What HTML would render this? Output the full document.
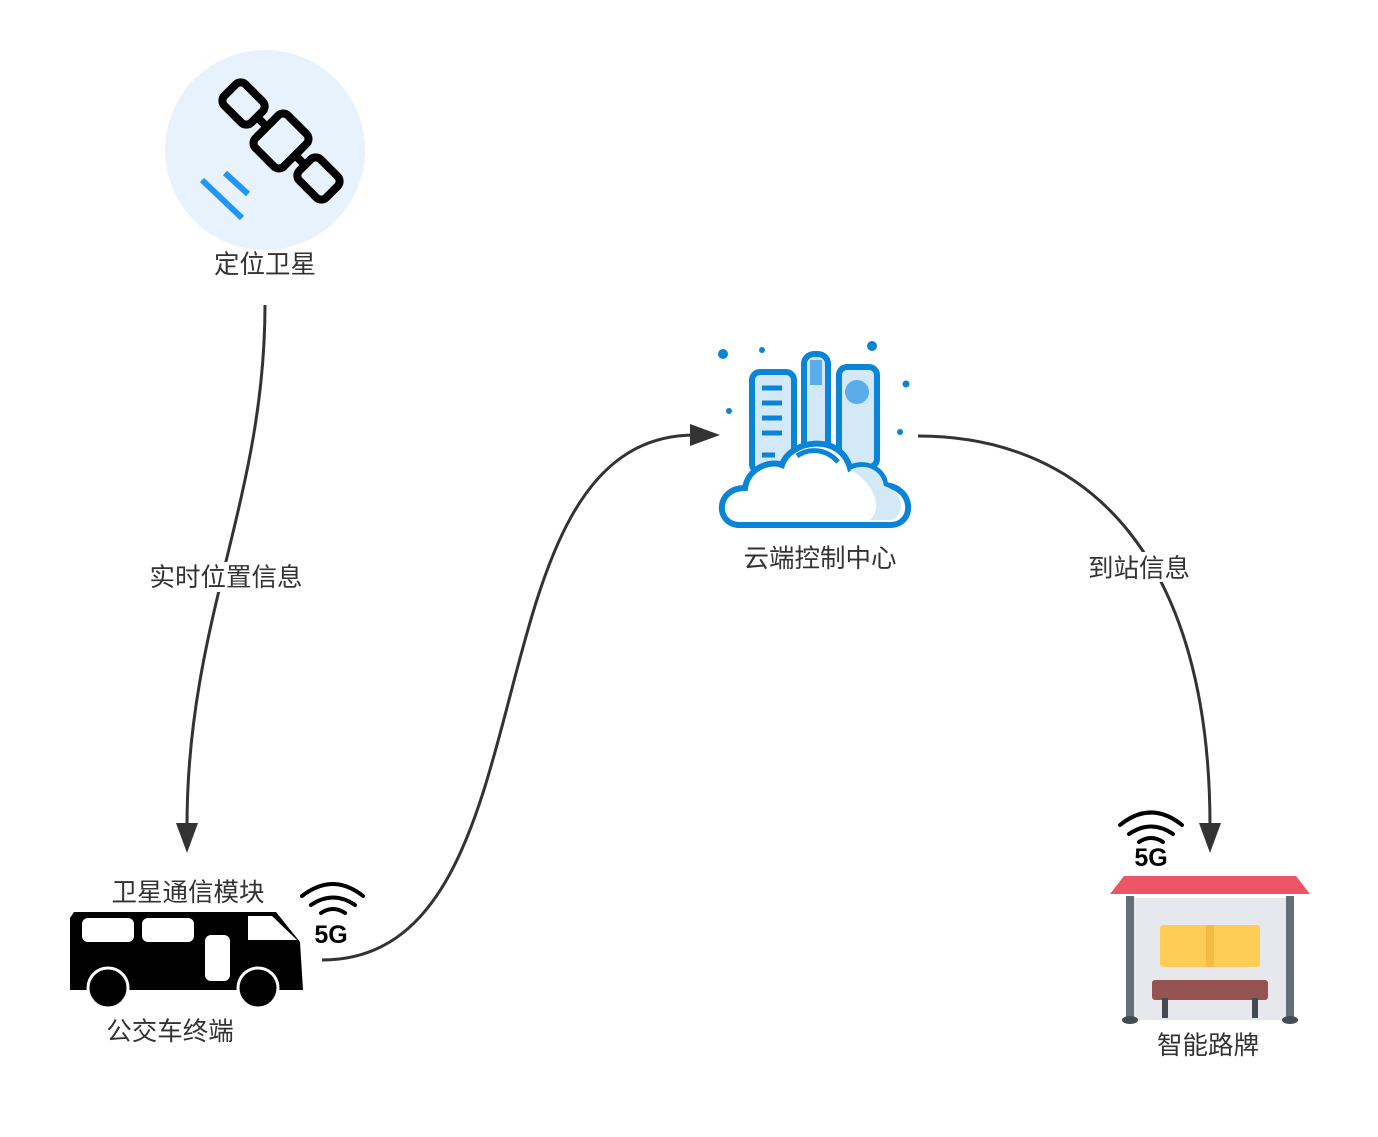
<!DOCTYPE html>
<html><head><meta charset="utf-8"><style>
body{margin:0;background:#fff;}
svg text{font-family:"Liberation Sans","Noto Sans CJK SC",sans-serif;font-size:25.5px;fill:#333;}
</style></head><body>
<svg width="1378" height="1132" viewBox="0 0 1378 1132" xmlns="http://www.w3.org/2000/svg">
<!-- satellite -->
<circle cx="265" cy="150" r="100" fill="#e7f2fd"/>
<g transform="rotate(45 281 141)" fill="none" stroke="#000" stroke-width="8">
<rect x="209" y="126" width="38" height="30" rx="7"/>
<rect x="261" y="118" width="40" height="46" rx="7"/>
<rect x="315" y="126" width="38" height="30" rx="7"/>
<line x1="247" y1="141" x2="261" y2="141"/><line x1="301" y1="141" x2="315" y2="141"/>
</g>
<g stroke="#2196f3" stroke-width="6">
<line x1="202" y1="180" x2="242" y2="218"/><line x1="225" y1="173" x2="248" y2="194"/>
</g>
<text x="265" y="273" text-anchor="middle">定位卫星</text>

<!-- edges -->
<g fill="none" stroke="#333" stroke-width="3">
<path d="M265,305 C265,500 187,620 187,826"/>
<path d="M322,960 C560,960 460,435 695,435"/>
<path d="M918,436 C1090,436 1210,560 1210,826"/>
</g>
<g fill="#333">
<polygon points="176,823 198,823 187,853"/>
<polygon points="690,424 690,446 720,435"/>
<polygon points="1199,823 1221,823 1210,853"/>
</g>
<rect x="146" y="562" width="160" height="30" fill="#fff"/>
<text x="226" y="586" text-anchor="middle">实时位置信息</text>
<rect x="1085" y="552" width="108" height="30" fill="#fff"/>
<text x="1139" y="577" text-anchor="middle">到站信息</text>

<!-- cloud center -->
<g fill="#0a84d6">
<circle cx="723" cy="354" r="5"/><circle cx="762" cy="350" r="3"/><circle cx="872" cy="346" r="5"/><circle cx="906" cy="384" r="3.5"/><circle cx="729" cy="411" r="3"/><circle cx="900" cy="432" r="3"/>
</g>
<g stroke="#0a84d6" stroke-width="6" fill="#d4e9f8">
<rect x="752" y="372" width="42" height="100" rx="8"/>
<rect x="839" y="367" width="38" height="100" rx="8"/>
<rect x="804" y="354" width="24" height="100" rx="10"/>
</g>
<rect x="810" y="360" width="12" height="25" fill="#5aacea"/>
<circle cx="857" cy="392" r="12" fill="#5aacea"/>
<g stroke="#0a84d6" stroke-width="5">
<line x1="762" y1="388" x2="782" y2="388"/><line x1="762" y1="403" x2="782" y2="403"/><line x1="762" y1="418" x2="782" y2="418"/><line x1="762" y1="433" x2="782" y2="433"/><line x1="762" y1="455" x2="775" y2="455"/>
</g>
<path d="M740,525 C715,525 715,488 745,488 C748,468 770,460 782,465 C790,440 840,432 850,468 C865,460 885,470 885,485 C915,488 915,525 890,525 Z" fill="#fff" stroke="#0a84d6" stroke-width="6"/>
<path d="M850,470 C865,462 882,470 884,486 C906,492 905,518 890,520 L870,520 C885,505 870,480 850,470 Z" fill="#d4e9f8"/>
<path d="M797,456 C808,448 826,448 838,462" fill="none" stroke="#0a84d6" stroke-width="5"/>
<text x="820" y="567" text-anchor="middle">云端控制中心</text>

<!-- bus -->
<text x="188" y="901" text-anchor="middle">卫星通信模块</text>
<path d="M74,912 L276,912 L300,942 L303,990 L70,990 L70,918 Z" fill="#000"/>
<rect x="82" y="918" width="52" height="24" rx="6" fill="#fff"/>
<rect x="142" y="918" width="52" height="24" rx="6" fill="#fff"/>
<path d="M248,916 L272,916 L297,940 L248,940 Z" fill="#fff"/>
<rect x="205" y="935" width="25" height="46" rx="6" fill="#fff"/>
<circle cx="108" cy="988" r="20" fill="#000" stroke="#fff" stroke-width="3"/>
<circle cx="258" cy="988" r="20" fill="#000" stroke="#fff" stroke-width="3"/>
<text x="170" y="1040" text-anchor="middle">公交车终端</text>
<!-- 5G bus -->
<g fill="none" stroke="#000" stroke-width="4" stroke-linecap="round">
<path d="M302,896 Q333,872 363,896"/><path d="M311,905 Q333,890 355,905"/><path d="M321,913 Q333,905 345,913"/>
</g>
<text x="331" y="943" text-anchor="middle" style="font-weight:bold;font-size:25px;fill:#000">5G</text>

<!-- bus stop -->
<g fill="none" stroke="#000" stroke-width="4" stroke-linecap="round">
<path d="M1120,825 Q1151,800 1182,825"/><path d="M1129,834 Q1151,819 1173,834"/><path d="M1139,842 Q1151,834 1163,842"/>
</g>
<text x="1151" y="866" text-anchor="middle" style="font-weight:bold;font-size:25px;fill:#000">5G</text>
<rect x="1132" y="898" width="156" height="122" fill="#e6e8ee"/>
<path d="M1124,876 L1296,876 L1310,894 L1110,894 Z" fill="#ec5565"/>
<rect x="1126" y="896" width="8" height="124" fill="#656d78"/>
<rect x="1286" y="896" width="8" height="124" fill="#656d78"/>
<ellipse cx="1130" cy="1020" rx="8" ry="4" fill="#434a54"/>
<ellipse cx="1290" cy="1020" rx="8" ry="4" fill="#434a54"/>
<rect x="1160" y="925" width="100" height="42" rx="3" fill="#fecd56"/>
<rect x="1206" y="925" width="8" height="42" fill="#f6bb42"/>
<rect x="1152" y="980" width="116" height="20" rx="3" fill="#965353"/>
<rect x="1162" y="998" width="6" height="20" fill="#434a54"/>
<rect x="1252" y="998" width="6" height="20" fill="#434a54"/>
<text x="1208" y="1054" text-anchor="middle">智能路牌</text>
</svg>
</body></html>
